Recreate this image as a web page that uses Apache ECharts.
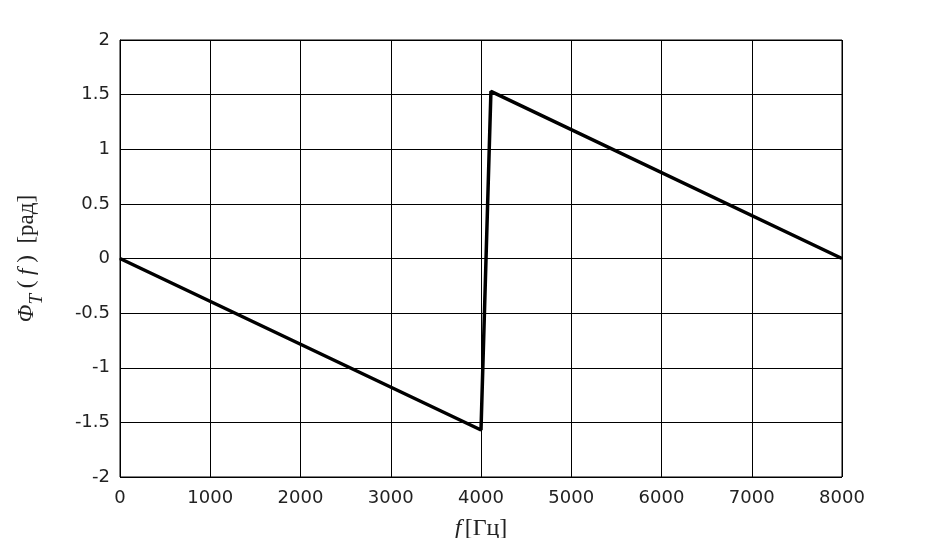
<!DOCTYPE html>
<html>
<head>
<meta charset="utf-8">
<script src="https://cdn.jsdelivr.net/npm/echarts@6/dist/echarts.min.js"></script>
<style>
html,body{margin:0;padding:0;background:#fff;}
#c{width:929px;height:538px;}
</style>
</head>
<body>
<div id="c"></div>
<script>
// Data (frequency in Hz, phase in rad)
var freqs = [0, 4000, 4110, 8000];
var phase = [0, -1.57, 1.53, 0];
var xTicks = [0, 1000, 2000, 3000, 4000, 5000, 6000, 7000, 8000];
var yTicks = [-2, -1.5, -1, -0.5, 0, 0.5, 1, 1.5, 2];

var chart = echarts.init(document.getElementById('c'), null, {renderer: 'canvas'});
var pts = freqs.map(function (f, i) { return [f, phase[i]]; });
var tickFont = {fontFamily: 'DejaVu Sans', fontSize: 18, color: '#222'};
chart.setOption({
  animation: false,
  backgroundColor: '#fff',
  grid: {left: 120, right: 87, top: 40, bottom: 61, show: true, borderColor: '#000', borderWidth: 1,
         containLabel: false, outerBoundsMode: 'none'},
  xAxis: {
    type: 'value', min: xTicks[0], max: xTicks[xTicks.length - 1], interval: 1000,
    axisLine: {show: true, lineStyle: {color: '#000', width: 1}},
    axisTick: {show: false},
    splitLine: {show: true, lineStyle: {color: '#000', width: 1}},
    axisLabel: Object.assign({margin: 12, formatter: function (v) { return String(v); }}, tickFont),
    name: '{it|f} {n|[Гц]}',
    nameLocation: 'middle', nameGap: 40,
    nameTextStyle: {
      rich: {
        it: {fontFamily: 'Liberation Serif', fontStyle: 'italic', fontSize: 24, color: '#222'},
        n: {fontFamily: 'Liberation Serif', fontSize: 24, color: '#222'}
      }
    }
  },
  yAxis: {
    type: 'value', min: yTicks[0], max: yTicks[yTicks.length - 1], interval: 0.5,
    axisLine: {show: true, lineStyle: {color: '#000', width: 1}},
    axisTick: {show: false},
    splitLine: {show: true, lineStyle: {color: '#000', width: 1}},
    axisLabel: Object.assign({margin: 10, formatter: function (v) { return String(v); }}, tickFont),
    name: '{phi|Φ}{sub|T}{n| ( }{it|f}{n| )  [рад]}',
    nameLocation: 'middle', nameGap: 74, nameRotate: 90,
    nameTextStyle: {
      rich: {
        phi: {fontFamily: 'Liberation Serif', fontStyle: 'italic', fontSize: 23, color: '#222', lineHeight: 38},
        sub: {fontFamily: 'Liberation Serif', fontStyle: 'italic', fontSize: 19, color: '#222', verticalAlign: 'bottom', lineHeight: 16},
        it: {fontFamily: 'Liberation Serif', fontStyle: 'italic', fontSize: 23, color: '#222', lineHeight: 38},
        n: {fontFamily: 'Liberation Serif', fontSize: 23, color: '#222', lineHeight: 38}
      }
    }
  },
  series: [{
    type: 'line', data: pts, symbol: 'none',
    lineStyle: {color: '#000', width: 3.5}
  }]
});
</script>
</body>
</html>
